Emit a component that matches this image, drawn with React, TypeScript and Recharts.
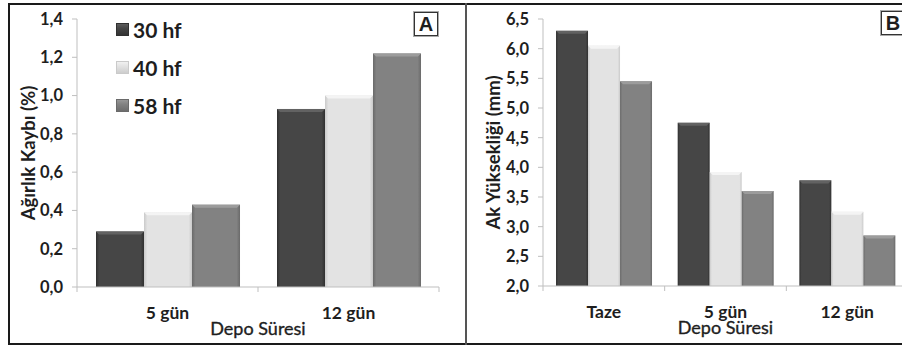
import { BarChart, Bar, XAxis, YAxis, Legend, Label } from "recharts";

// --- data ---
const seriesNames = ["30 hf", "40 hf", "58 hf"];

const categoriesA = ["5 gün", "12 gün"];
const kayip30 = [0.29, 0.93];
const kayip40 = [0.39, 1.0];
const kayip58 = [0.43, 1.22];
const ticksA = [0, 0.2, 0.4, 0.6, 0.8, 1.0, 1.2, 1.4];

const categoriesB = ["Taze", "5 gün", "12 gün"];
const yuk30 = [6.3, 4.75, 3.78];
const yuk40 = [6.05, 3.92, 3.25];
const yuk58 = [5.45, 3.6, 2.85];
const ticksB = [2.0, 2.5, 3.0, 3.5, 4.0, 4.5, 5.0, 5.5, 6.0, 6.5];

const dataA = categoriesA.map((c, i) => ({ cat: c, s30: kayip30[i], s40: kayip40[i], s58: kayip58[i] }));
const dataB = categoriesB.map((c, i) => ({ cat: c, s30: yuk30[i], s40: yuk40[i], s58: yuk58[i] }));

const tones = [
  { key: "s30", base: "#464646", edge: "#303030", top: "#626262" },
  { key: "s40", base: "#e3e3e3", edge: "#cacaca", top: "#f4f4f4" },
  { key: "s58", base: "#828282", edge: "#6a6a6a", top: "#9c9c9c" },
];

const FONT = "Lato, 'Open Sans', sans-serif";
const AXIS = "#bfbfbf";
const INK = "#1e1e1e";
const comma = (v: number) => v.toFixed(1).replace(".", ",");

function Gradients({ prefix }: { prefix: string }) {
  return (
    <defs>
      {tones.map(t => (
        <linearGradient key={t.key} id={prefix + t.key} x1="0" y1="0" x2="1" y2="0">
          <stop offset="0" stopColor={t.edge} />
          <stop offset="0.07" stopColor={t.base} />
          <stop offset="0.93" stopColor={t.base} />
          <stop offset="1" stopColor={t.edge} />
        </linearGradient>
      ))}
    </defs>
  );
}

const bevel = (prefix: string, t: any) => (p: any) => {
  const { x, y, width: w, height: h } = p;
  if (!h || h <= 0) return <g />;
  const b = Math.min(3, h / 2);
  return (
    <g>
      <rect x={x} y={y} width={w} height={h} fill={`url(#${prefix + t.key})`} />
      <polygon
        points={`${x},${y} ${x + w},${y} ${x + w - b},${y + b} ${x + b},${y + b}`}
        fill={t.top}
      />
    </g>
  );
};

const CatTick = (props: any) => {
  const { x, y, payload, index, visibleTicksCount } = props;
  const half = payload?.offset ?? 0;
  return (
    <g>
      {half > 0 && <line x1={x - half} x2={x - half} y1={y} y2={y + 5} stroke={AXIS} />}
      {half > 0 && index === visibleTicksCount - 1 && (
        <line x1={x + half} x2={x + half} y1={y} y2={y + 5} stroke={AXIS} />
      )}
      <text
        x={x}
        y={y + 19}
        dy="0.72em"
        textAnchor="middle"
        fontFamily={FONT}
        fontWeight="bold"
        fontSize={17.5}
        fill={INK}
      >
        {payload.value}
      </text>
    </g>
  );
};

const yLabel = (text: string, dx: number) => (p: any) => {
  const vb = p.viewBox;
  const cx = vb.x + dx;
  const cy = vb.y + vb.height / 2;
  return (
    <text
      x={cx}
      y={cy}
      transform={`rotate(-90 ${cx} ${cy})`}
      textAnchor="middle"
      dominantBaseline="central"
      fontFamily={FONT}
      fontWeight="bold"
      fontSize={18.5}
      fill={INK}
    >
      {text}
    </text>
  );
};

const xLabel = (dy: number) => (p: any) => {
  const vb = p.viewBox;
  return (
    <text
      x={vb.x + vb.width / 2}
      y={vb.y + dy}
      textAnchor="middle"
      fontFamily={FONT}
      fontSize={18}
      stroke={INK}
      strokeWidth={0.35}
      fill={INK}
    >
      Depo Süresi
    </text>
  );
};

const LegendBox = () => (
  <div style={{ fontFamily: FONT }}>
    {seriesNames.map((n, i) => (
      <div key={n} style={{ display: "flex", alignItems: "center", height: 38 }}>
        <span
          style={{
            width: 13,
            height: 13,
            marginRight: 4,
            background: `linear-gradient(180deg, ${tones[i].top}, ${tones[i].base} 40%, ${tones[i].edge})`,
            boxShadow: `inset 0 0 0 1px ${tones[i].edge}`,
          }}
        />
        <span style={{ fontSize: 21, fontWeight: 700, color: INK }}>{n}</span>
      </div>
    ))}
  </div>
);

const boxStyle = (left: number, top: number): React.CSSProperties => ({
  position: "absolute",
  left,
  top,
  width: 22,
  height: 22,
  border: "1px solid #333",
  outline: "1px solid #aaa",
  fontFamily: "'Liberation Sans', Arial, sans-serif",
  fontWeight: 700,
  fontSize: 20,
  lineHeight: "22px",
  textAlign: "center",
  color: INK,
  background: "#fff",
});

const yTick = { fontFamily: FONT, fontWeight: "bold", fontSize: 16.5, fill: INK };

export default function App() {
  return (
    <div
      style={{
        position: "absolute",
        left: 0,
        top: 0,
        width: 902,
        height: 346,
        overflow: "hidden",
        background: "#fff",
      }}
    >
      {/* panel A */}
      <div style={{ position: "absolute", left: 0, top: 0 }}>
        <BarChart
          width={466}
          height={346}
          data={dataA}
          margin={{ top: 19, right: 27, bottom: 0, left: 8 }}
          barCategoryGap="10.5%"
          barGap={0}
        >
          <Gradients prefix="ga" />
          <XAxis
            dataKey="cat"
            height={59}
            tickSize={0}
            tickMargin={0}
            tickLine={false}
            axisLine={{ stroke: AXIS }}
            tick={<CatTick />}
            interval={0}
          >
            <Label content={xLabel(48)} />
          </XAxis>
          <YAxis
            width={69}
            domain={[0, 1.4]}
            ticks={ticksA}
            tickFormatter={comma}
            tickSize={5}
            tickMargin={9}
            tickLine={{ stroke: AXIS }}
            axisLine={{ stroke: AXIS }}
            tick={yTick}
          >
            <Label content={yLabel("Ağırlık Kaybı (%)", 20)} />
          </YAxis>
          <Legend
            layout="vertical"
            align="center"
            verticalAlign="middle"
            wrapperStyle={{ left: 116, top: 10, width: 90, height: 114 }}
            content={<LegendBox />}
          />
          {tones.map((t, i) => (
            <Bar
              key={t.key}
              dataKey={t.key}
              name={seriesNames[i]}
              fill={t.base}
              shape={bevel("ga", t)}
              isAnimationActive={false}
            />
          ))}
        </BarChart>
      </div>

      {/* panel B */}
      <div style={{ position: "absolute", left: 466, top: 0 }}>
        <BarChart
          width={442}
          height={346}
          data={dataB}
          margin={{ top: 19, right: 0, bottom: 0, left: 0 }}
          barCategoryGap="10.7%"
          barGap={0}
        >
          <Gradients prefix="gb" />
          <XAxis
            dataKey="cat"
            height={60}
            tickSize={0}
            tickMargin={0}
            tickLine={false}
            axisLine={{ stroke: AXIS }}
            tick={<CatTick />}
            interval={0}
          >
            <Label content={xLabel(48)} />
          </XAxis>
          <YAxis
            width={77}
            domain={[2, 6.5]}
            ticks={ticksB}
            tickFormatter={comma}
            tickSize={5}
            tickMargin={9}
            tickLine={{ stroke: AXIS }}
            axisLine={{ stroke: AXIS }}
            tick={yTick}
          >
            <Label content={yLabel("Ak Yüksekliği (mm)", 27)} />
          </YAxis>
          {tones.map((t, i) => (
            <Bar
              key={t.key}
              dataKey={t.key}
              name={seriesNames[i]}
              fill={t.base}
              shape={bevel("gb", t)}
              isAnimationActive={false}
            />
          ))}
        </BarChart>
      </div>

      {/* frame and separator */}
      <div
        style={{
          position: "absolute",
          left: 8,
          top: 3,
          width: 920,
          height: 342,
          border: "2px solid #1a1a1a",
          boxSizing: "border-box",
          pointerEvents: "none",
        }}
      />
      <div style={{ position: "absolute", left: 465, top: 3, width: 2, height: 342, background: "#555" }} />

      <div style={boxStyle(414, 12)}>A</div>
      <div style={boxStyle(881, 11)}>B</div>
    </div>
  );
}
